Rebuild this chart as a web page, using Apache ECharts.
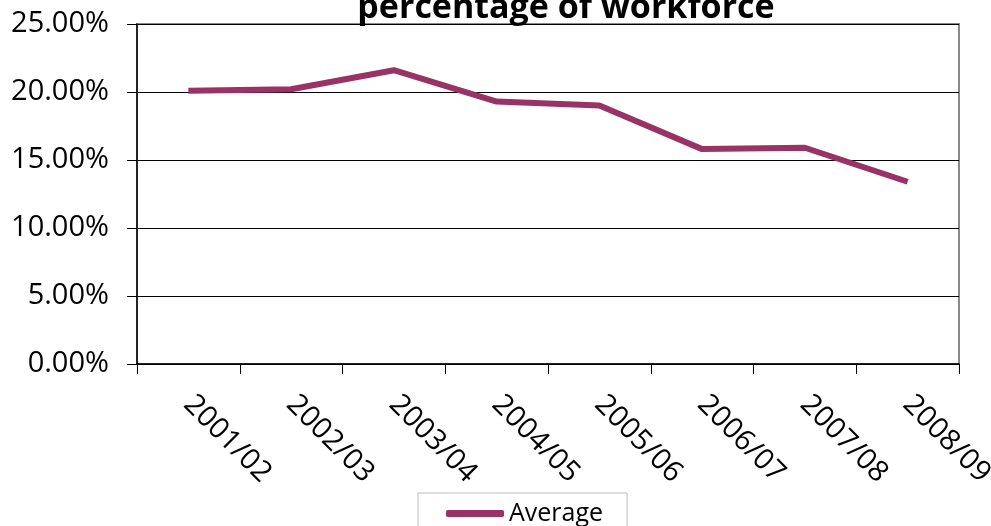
<!DOCTYPE html>
<html><head><meta charset="utf-8">
<script src="https://cdn.jsdelivr.net/npm/echarts@6/dist/echarts.min.js"></script>
<style>html,body{margin:0;padding:0;background:#fff}#c{width:991px;height:526px}</style>
</head><body><div id="c"></div>
<script>
const categories = ['2001/02','2002/03','2003/04','2004/05','2005/06','2006/07','2007/08','2008/09'];
const averageValues = [20.1, 20.2, 21.6, 19.3, 19.0, 15.8, 15.9, 13.4];
const titleText = 'percentage of workforce';
const seriesName = 'Average';

const chart = echarts.init(document.getElementById('c'));
chart.setOption({
  animation: false,
  backgroundColor: '#fff',
  title: {
    text: titleText, left: 561, top: -14, textAlign: 'center',
    textStyle: { fontFamily: 'Open Sans', fontWeight: 'bold', fontSize: 34, color: '#000' }
  },
  grid: { left: 137, right: 32, top: 24, bottom: 162, show: true, borderColor: '#8a8a8a', borderWidth: 2,
          containLabel: false, outerBoundsMode: 'none' },
  legend: {
    data: [seriesName], left: 418, top: 493, itemWidth: 58, itemHeight: 7, icon: 'roundRect',
    borderColor: '#bdbdbd', borderWidth: 1, padding: [8, 24, 12, 28], itemGap: 10,
    textStyle: { fontFamily: 'Open Sans', fontSize: 25, color: '#000' }
  },
  xAxis: {
    type: 'category', data: categories, boundaryGap: true,
    axisLine: { lineStyle: { color: '#000', width: 1.5 } },
    axisTick: { show: true, length: 10, lineStyle: { color: '#000' } },
    axisLabel: { rotate: -45, margin: 36, fontFamily: 'Open Sans', fontSize: 29, color: '#000' }
  },
  yAxis: {
    type: 'value', min: 0, max: 25, interval: 5,
    axisLine: { show: true, lineStyle: { color: '#000', width: 1.5 } },
    axisTick: { show: true, length: 10, lineStyle: { color: '#000' } },
    splitLine: { lineStyle: { color: '#000', width: 1 } },
    axisLabel: { formatter: v => v.toFixed(2) + '%', margin: 28, fontFamily: 'Open Sans', fontSize: 29, color: '#000' }
  },
  series: [{
    name: seriesName, type: 'line', data: averageValues, symbol: 'none',
    lineStyle: { color: '#993366', width: 6 }, itemStyle: { color: '#993366' }
  }]
});
</script></body></html>
